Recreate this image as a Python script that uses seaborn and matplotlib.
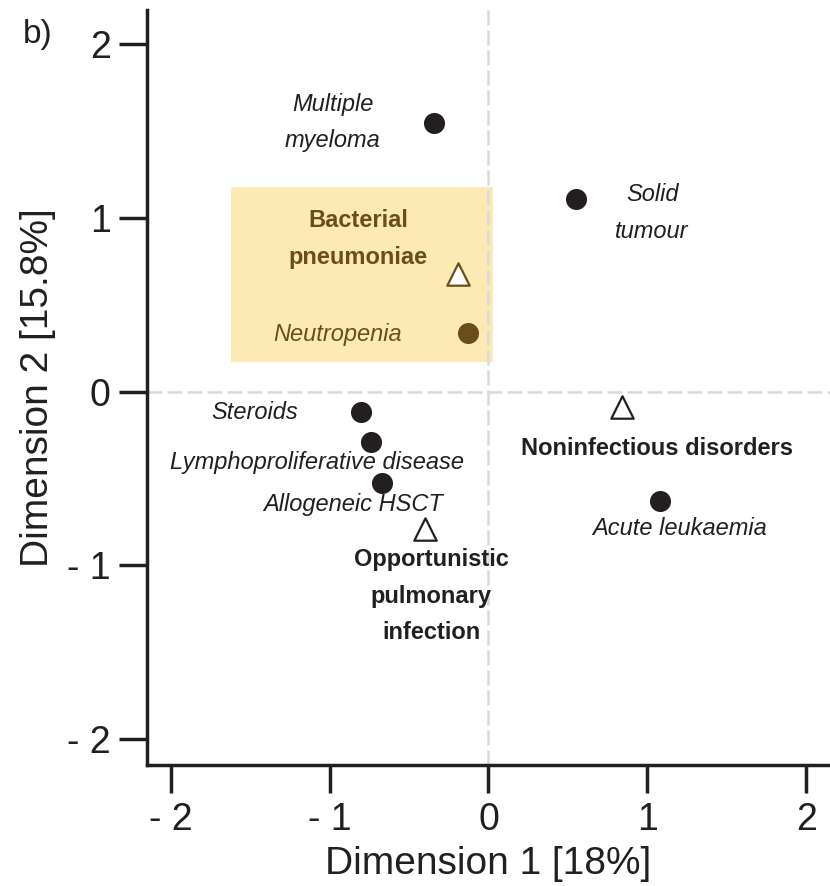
import matplotlib
matplotlib.use("Agg")
import matplotlib.pyplot as plt
import seaborn as sns
import pandas as pd
from matplotlib.patches import Rectangle

# Data
names = ["Multiple myeloma", "Solid tumour", "Bacterial pneumoniae", "Neutropenia",
         "Steroids", "Lymphoproliferative disease", "Allogeneic HSCT",
         "Opportunistic pulmonary infection", "Noninfectious disorders", "Acute leukaemia"]
dim1 = [-0.34, 0.55, -0.19, -0.13, -0.80, -0.74, -0.67, -0.40, 0.84, 1.08]
dim2 = [1.55, 1.11, 0.68, 0.34, -0.12, -0.29, -0.53, -0.79, -0.09, -0.63]
kind = ["factor", "factor", "outcome", "factor", "factor", "factor", "factor",
        "outcome", "outcome", "factor"]
highlight = [False, False, True, True, False, False, False, False, False, False]
ticks = [-2, -1, 0, 1, 2]

df = pd.DataFrame({"name": names, "d1": dim1, "d2": dim2, "kind": kind, "hl": highlight})

BROWN = "#6b4d1a"
BOX = "#fde9b3"
INK = "#231f20"

sns.set_style("white")
plt.rcParams['font.family'] = ['Liberation Sans', 'DejaVu Sans']

fig = plt.figure(figsize=(8.3, 8.86), dpi=100)
ax = fig.add_axes([0.177, 0.137, 0.823, 0.852])

ax.add_patch(Rectangle((-1.62, 0.17), 1.65, 1.01, facecolor=BOX, edgecolor="none", zorder=0))
ax.axhline(0, color="#d9d9d9", lw=1.8, ls=(0, (6, 2)), zorder=1)
ax.axvline(0, color="#d9d9d9", lw=1.8, ls=(0, (6, 2)), zorder=1)

for k in ["factor", "outcome"]:
    for h in [False, True]:
        sub = df[(df.kind == k) & (df.hl == h)]
        if sub.empty:
            continue
        col = BROWN if h else INK
        if k == "factor":
            sns.scatterplot(data=sub, x="d1", y="d2", marker="o", s=230, color=col,
                            edgecolor=col, linewidth=0, ax=ax, zorder=3, legend=False)
        else:
            sns.scatterplot(data=sub, x="d1", y="d2", marker="^", s=260, facecolor="white",
                            edgecolor=col, linewidth=1.6, ax=ax, zorder=3, legend=False)

def lab(i, dx, dy, text=None, ha="center", bold=False, italic=True, color=INK):
    ax.text(dim1[i] + dx, dim2[i] + dy, text if text else names[i], ha=ha, va="center",
            fontsize=17, fontweight="bold" if bold else "normal",
            style="italic" if italic else "normal", color=color, linespacing=1.75, zorder=4)

lab(0, -0.64, 0.0, "Multiple\nmyeloma")
lab(1, 0.48, -0.08, "Solid\ntumour")
lab(2, -0.63, 0.20, "Bacterial\npneumoniae", bold=True, italic=False, color=BROWN)
lab(3, -0.82, -0.01, color=BROWN)
lab(4, -0.40, 0.0, ha="right")
lab(5, -0.34, -0.12)
lab(6, -0.18, -0.12)
lab(7, 0.04, -0.39, "Opportunistic\npulmonary\ninfection", bold=True, italic=False)
lab(8, 0.22, -0.24, bold=True, italic=False)
lab(9, 0.12, -0.16)

ax.set_xlim(-2.15, 2.15)
ax.set_ylim(-2.15, 2.2)
ax.set_xticks(ticks)
ax.set_yticks(ticks)
tl = [("- " + str(-t)) if t < 0 else str(t) for t in ticks]
ax.set_xticklabels(tl)
ax.set_yticklabels(tl)
ax.tick_params(axis="both", direction="out", length=20, width=2.5, color=INK,
               labelsize=27, labelcolor=INK, bottom=True, left=True)
ax.tick_params(axis="x", pad=7)
ax.tick_params(axis="y", pad=6)
ax.set_xlabel("Dimension 1 [18%]", fontsize=28, color=INK)
ax.set_ylabel("Dimension 2 [15.8%]", fontsize=28, color=INK)
ax.xaxis.set_label_coords(0.5, -0.108)
ax.yaxis.set_label_coords(-0.133, 0.5)
sns.despine(ax=ax)
for s in ["left", "bottom"]:
    ax.spines[s].set_linewidth(2.5)
    ax.spines[s].set_color(INK)

fig.text(0.028, 0.952, "b)", fontsize=24, color=INK)

fig.savefig("out.png", dpi=100)
